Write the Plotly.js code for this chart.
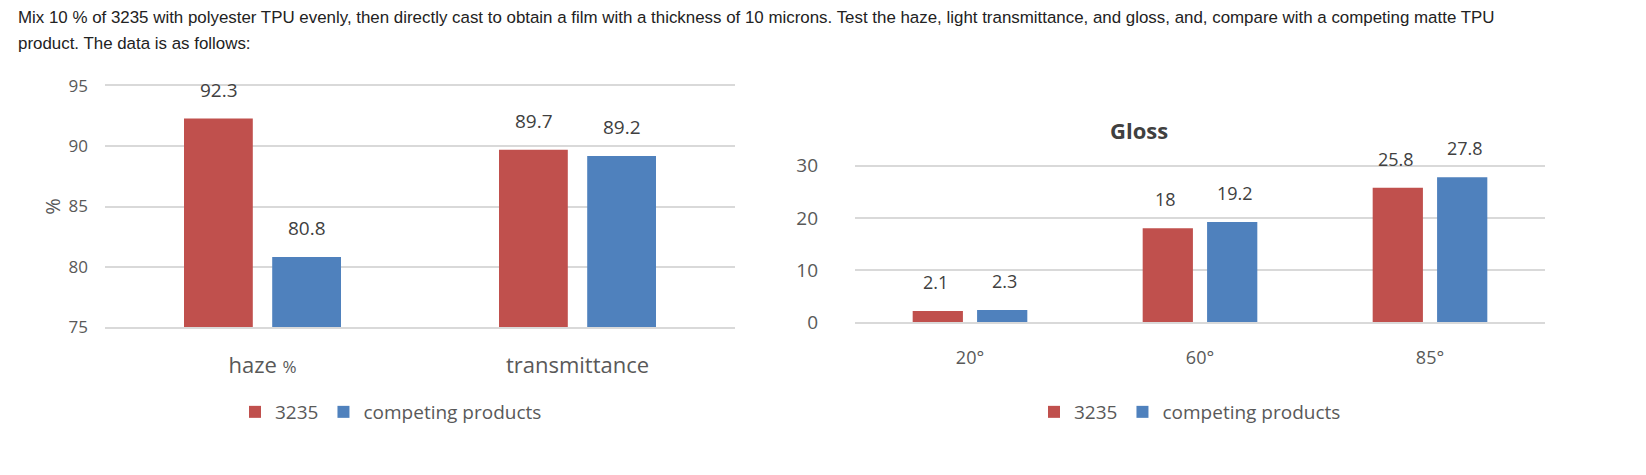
<!DOCTYPE html>
<html>
<head>
<meta charset="utf-8">
<script src="https://cdn.plot.ly/plotly-3.0.1.min.js"></script>
<style>
  body { margin: 0; background: #fff; }
  #intro {
    position: absolute; left: 18px; top: 5px; z-index: 2;
    font-family: "Liberation Sans", Arial, sans-serif; font-size: 16.9px;
    line-height: 26px; color: #222;
  }
  #chart { width: 1646px; height: 475px; }
</style>
</head>
<body>
<div id="intro">Mix 10 % of 3235 with polyester TPU evenly, then directly cast to obtain a film with a thickness of 10 microns. Test the haze, light transmittance, and gloss, and, compare with a competing matte TPU<br>product. The data is as follows:</div>
<div id="chart"></div>
<script>
// optical properties (left chart)
const opticCats = ['haze <span style="font-size:17px">%</span>', 'transmittance'];
const optic3235 = [92.3, 89.7];
const opticComp = [80.8, 89.2];

// gloss (right chart)
const glossCats = ['20°', '60°', '85°'];
const gloss3235 = [2.1, 18, 25.8];
const glossComp = [2.3, 19.2, 27.8];

const RED = '#C0504D';
const BLUE = '#4F81BD';
const GRID = '#d9d9d9';
const FONT = 'Open Sans, Noto Sans, sans-serif';

var traces = [
  { x: opticCats, y: optic3235, type: 'bar', name: '3235', marker: {color: RED},
    xaxis: 'x', yaxis: 'y', legend: 'legend', hoverinfo: 'y' },
  { x: opticCats, y: opticComp, type: 'bar', name: 'competing products', marker: {color: BLUE},
    xaxis: 'x', yaxis: 'y', legend: 'legend', hoverinfo: 'y' },
  { x: glossCats, y: gloss3235, type: 'bar', name: '3235', marker: {color: RED},
    xaxis: 'x2', yaxis: 'y2', legend: 'legend2', hoverinfo: 'y' },
  { x: glossCats, y: glossComp, type: 'bar', name: 'competing products', marker: {color: BLUE},
    xaxis: 'x2', yaxis: 'y2', legend: 'legend2', hoverinfo: 'y' }
];

// value labels, placed above each bar
var notes = [];
function addLabels(cats, vals, xr, yr, shift, size) {
  cats.forEach(function(c, i) {
    notes.push({ x: c, y: vals[i], xref: xr, yref: yr, text: String(vals[i]),
      showarrow: false, xshift: shift, yshift: 29, font: {size: size, color: '#404040', family: FONT} });
  });
}
addLabels(opticCats, optic3235, 'x', 'y', -44, 19);
addLabels(opticCats, opticComp, 'x', 'y', 44, 19);
addLabels(glossCats, gloss3235, 'x2', 'y2', -34.5, 18);
addLabels(glossCats, glossComp, 'x2', 'y2', 34.5, 18);

notes.push({ text: '<b>Gloss</b>', xref: 'paper', yref: 'paper', x: 1170 / 1646, y: 1 - 113 / 475,
  showarrow: false, font: {size: 22, color: '#404040', family: FONT} });

var gridAxis = {
  showgrid: true, gridcolor: GRID, gridwidth: 2, zeroline: false, showline: false,
  tickfont: {size: 17, color: '#595959', family: FONT}
};

var layout = {
  width: 1646, height: 475,
  margin: {l: 0, r: 0, t: 0, b: 0},
  paper_bgcolor: '#fff', plot_bgcolor: '#fff',
  font: {family: FONT, color: '#595959'},
  barmode: 'group', bargap: 0.44, bargroupgap: 0.22,
  showlegend: true,
  xaxis: { domain: [105 / 1646, 735 / 1646], anchor: 'y', showgrid: false, zeroline: false,
    showline: true, linecolor: GRID, linewidth: 2, mirror: 'all',
    ticks: 'outside', ticklen: 18, tickcolor: 'rgba(0,0,0,0)',
    tickfont: {size: 22, color: '#595959', family: FONT} },
  yaxis: Object.assign({}, gridAxis, { domain: [1 - 327 / 475, 1 - 86 / 475], anchor: 'x',
    range: [75, 95], dtick: 5, ticklabelstandoff: 16,
    title: {text: '%', font: {size: 20, color: '#595959'}, standoff: 2} }),
  xaxis2: { domain: [855 / 1646, 1545 / 1646], anchor: 'y2', showgrid: false, zeroline: false,
    showline: true, linecolor: GRID, linewidth: 2,
    ticks: 'outside', ticklen: 18, tickcolor: 'rgba(0,0,0,0)',
    tickfont: {size: 18, color: '#595959', family: FONT} },
  yaxis2: Object.assign({}, gridAxis, { domain: [1 - 322 / 475, 1 - 145 / 475], anchor: 'x2',
    range: [0, 34], tickvals: [0, 10, 20, 30], ticklabelstandoff: 36,
    tickfont: {size: 19, color: '#595959', family: FONT} }),
  legend: { orientation: 'h', x: 391 / 1646, xanchor: 'center', y: 1 - 412 / 475, yanchor: 'middle',
    font: {size: 19, color: '#595959'}, itemwidth: 30, traceorder: 'normal' },
  legend2: { orientation: 'h', x: 1190 / 1646, xanchor: 'center', y: 1 - 412 / 475, yanchor: 'middle',
    font: {size: 19, color: '#595959'}, itemwidth: 30, traceorder: 'normal' },
  annotations: notes
};

Plotly.newPlot('chart', traces, layout, {displayModeBar: false, staticPlot: true});
</script>
</body>
</html>
